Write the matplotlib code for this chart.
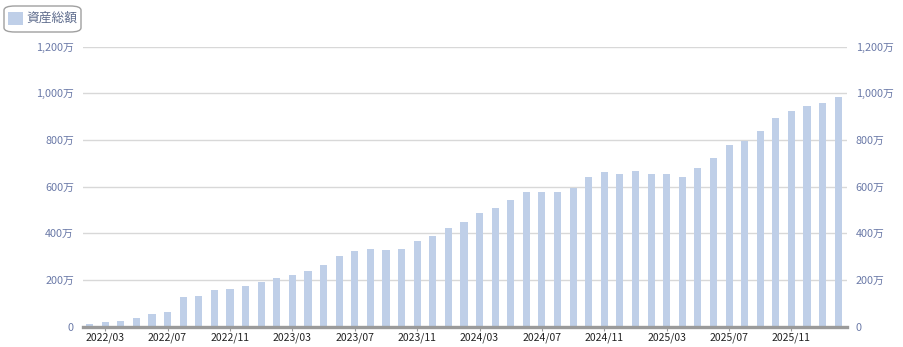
import matplotlib.pyplot as plt
from matplotlib.patches import FancyBboxPatch, Rectangle

plt.rcParams['font.family'] = ['Noto Sans CJK JP', 'DejaVu Sans']

# monthly total assets (unit: 万円), 2022/02 .. 2026/02
months = []
for y in range(2022, 2027):
    for m in range(1, 13):
        if (y == 2022 and m < 2) or (y == 2026 and m > 2):
            continue
        months.append(f"{y}/{m:02d}")

assets = [11, 21, 26, 39, 56, 64, 127, 133, 157, 162, 176, 191, 209, 223, 239,
          266, 302, 324, 334, 330, 334, 369, 390, 424, 450, 489, 510, 544, 579,
          579, 579, 596, 643, 665, 656, 669, 654, 654, 641, 680, 723, 779, 796,
          839, 894, 924, 946, 959, 984]

y_ticks = [0, 200, 400, 600, 800, 1000, 1200]
y_labels = ['0'] + [f"{v:,}万" for v in y_ticks[1:]]

bar_color = '#bfcfe8'
label_color = '#6b7aa8'

W, H = 904, 347
fig = plt.figure(figsize=(W / 100, H / 100), dpi=100)
ax = fig.add_axes([83 / W, (H - 326.7) / H, (846.7 - 83) / W, 280 / H])

x = list(range(len(assets)))
ax.bar(x, assets, width=0.46, color=bar_color, zorder=2)

ax.set_xlim(-0.42, len(assets) - 0.46)
ax.set_ylim(0, 1200)
ax.set_yticks(y_ticks)
ax.set_yticklabels(y_labels)
ax.grid(axis='y', color='#d8d8d8', linewidth=1, zorder=0)

tick_pos = [i for i, m in enumerate(months) if m[-2:] in ('03', '07', '11')]
ax.set_xticks(tick_pos)
ax.set_xticklabels([months[i] for i in tick_pos])

for s in ['top', 'left', 'right']:
    ax.spines[s].set_visible(False)
ax.spines['bottom'].set_color('#9a9a9a')
ax.spines['bottom'].set_linewidth(2.4)
ax.spines['bottom'].set_zorder(3)

ax.tick_params(axis='x', length=3, color='#9a9a9a', labelsize=7.5,
               labelcolor='#222222', pad=1)
ax.tick_params(axis='y', length=0, labelsize=7.8, labelcolor=label_color,
               pad=6.5, labelright=True, right=False)

# legend box
fig.patches.append(FancyBboxPatch((4 / W, (H - 32) / H), 77 / W, 26 / H,
                                  boxstyle='round,pad=0,rounding_size=0.012',
                                  transform=fig.transFigure, facecolor='white',
                                  edgecolor='#a0a0a0', linewidth=1))
fig.patches.append(Rectangle((8 / W, (H - 25) / H), 15 / W, 13 / H,
                             transform=fig.transFigure, facecolor=bar_color,
                             edgecolor='none'))
fig.text(26 / W, (H - 18.5) / H, '資産総額', fontsize=9.2, color='#5d6b8c',
         va='center', ha='left')

fig.savefig('out.png', dpi=100)
